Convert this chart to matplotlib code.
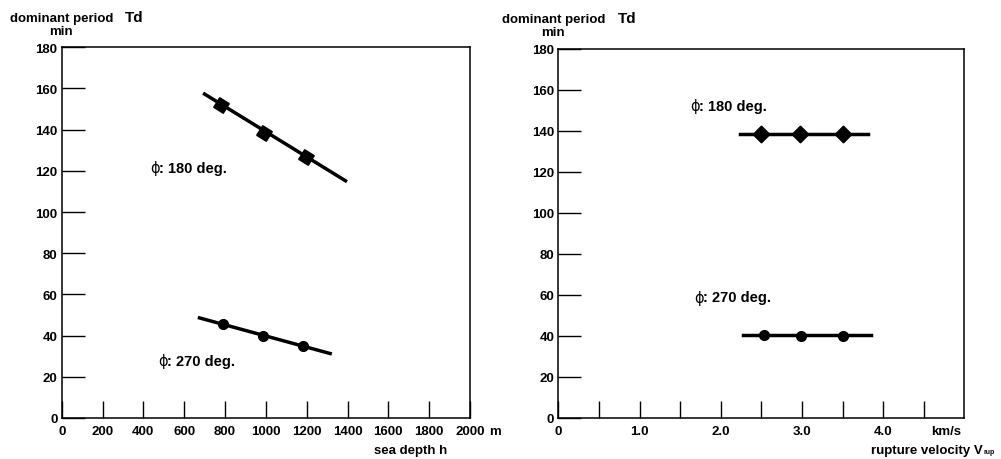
import matplotlib
matplotlib.use("Agg")
import matplotlib.pyplot as plt
import numpy as np

plt.rcParams['font.family'] = ['Liberation Sans', 'DejaVu Sans']
plt.rcParams['font.weight'] = 'bold'

# ---- data: left panel (sea depth) ----
depth_points = [780, 990, 1195]
td180_depth = [152, 138.3, 126.6]
line180_depth_x = [700, 1390]
line180_depth_y = [157.3, 115.2]

depth_points_270 = [790, 985, 1180]
td270_depth = [45.6, 39.8, 34.8]
line270_depth_x = [675, 1315]
line270_depth_y = [48.6, 31.3]

# ---- data: right panel (rupture velocity) ----
vrup_points = [2.5, 2.98, 3.5]
td180_vrup = [138.5, 138.3, 138.3]
line180_vrup_x = [2.24, 3.81]
line180_vrup_y = [138.4, 138.4]

vrup_points_270 = [2.53, 2.99, 3.51]
td270_vrup = [40.6, 40.2, 39.9]
line270_vrup_x = [2.27, 3.85]
line270_vrup_y = [40.5, 40.5]

depth_ticks = [0, 200, 400, 600, 800, 1000, 1200, 1400, 1600, 1800, 2000]
depth_labels = ['0', '200', '400', '600', '800', '1000', '1200', '1400', '1600', '1800', '2000']
vrup_ticks = [0, 0.5, 1.0, 1.5, 2.0, 2.5, 3.0, 3.5, 4.0, 4.5]
vrup_labels = ['0', '', '1.0', '', '2.0', '', '3.0', '', '4.0', '']
y_ticks = [0, 20, 40, 60, 80, 100, 120, 140, 160, 180]
y_labels = ['0', '20', '40', '60', '80', '100', '120', '140', '160', '180']

W, H = 1001, 460
fig = plt.figure(figsize=(W / 100, H / 100), dpi=100)

def px_axes(x0, x1, ytop, ybot):
    return fig.add_axes([x0 / W, (H - ybot) / H, (x1 - x0) / W, (ybot - ytop) / H])

axL = px_axes(61.7, 470.0, 48.3, 419.0)
axR = px_axes(558.3, 964.3, 50.0, 419.0)

fs = 9.5
for ax in (axL, axR):
    ax.set_ylim(0, 180)
    ax.set_yticks(y_ticks)
    ax.set_yticklabels(y_labels, fontsize=fs, fontweight='bold')
    ax.tick_params(axis='y', direction='in', length=16.5, width=1.0, pad=3)
    ax.tick_params(axis='x', direction='in', length=12.3, width=1.0, pad=5)
    for s in ax.spines.values():
        s.set_linewidth(1.1)

axL.set_xlim(0, 2000)
axL.set_xticks(depth_ticks)
axL.set_xticklabels(depth_labels, fontsize=fs, fontweight='bold')

axR.set_xlim(0, 5)
axR.set_xticks(vrup_ticks)
axR.set_xticklabels(vrup_labels, fontsize=fs, fontweight='bold')

lw = 2.5
c = 'black'
axL.plot(line180_depth_x, line180_depth_y, color=c, lw=lw)
axL.plot(depth_points, td180_depth, ls='none', marker=(4, 0, 13), ms=11.5, color=c)
axL.plot(line270_depth_x, line270_depth_y, color=c, lw=lw)
axL.plot(depth_points_270, td270_depth, ls='none', marker='o', ms=7, color=c)

axR.plot(line180_vrup_x, line180_vrup_y, color=c, lw=lw)
axR.plot(vrup_points, td180_vrup, ls='none', marker=(4, 0, 0), ms=12, color=c)
axR.plot(line270_vrup_x, line270_vrup_y, color=c, lw=lw)
axR.plot(vrup_points_270, td270_vrup, ls='none', marker='o', ms=7, color=c)

lfs = 10.5

def phi_label(ax, x, y, rest):
    ax.annotate('\u03d5', (x, y), xycoords='data', fontsize=lfs,
                fontweight='normal', family='DejaVu Sans', va='center', ha='left')
    ax.annotate(rest, (x, y), xycoords='data', xytext=(6.3, 0),
                textcoords='offset points', fontsize=lfs, fontweight='bold',
                va='center', ha='left')

phi_label(axL, 432, 121.4, ': 180 deg.')
phi_label(axL, 472, 27.8, ': 270 deg.')
phi_label(axR, 1.62, 152.3, ': 180 deg.')
phi_label(axR, 1.68, 59.0, ': 270 deg.')

def ftext(x, y, s, size=fs, ha='left'):
    fig.text(x / W, 1 - y / H, s, fontsize=size, fontweight='bold', ha=ha, va='center')

# y-axis titles
ftext(10, 19, 'dominant period')
ftext(125, 18, 'Td', size=11)
ftext(49, 32, 'min')
ftext(502, 20, 'dominant period')
ftext(618, 19, 'Td', size=11)
ftext(541, 33, 'min')

# x-axis titles
ftext(489, 432, 'm')
ftext(374, 451, 'sea depth h')
ftext(931, 432, 'km/s')
ftext(871, 451, 'rupture velocity V')
ftext(983, 453, 'rup', size=5)

fig.savefig('out.png', dpi=100)
